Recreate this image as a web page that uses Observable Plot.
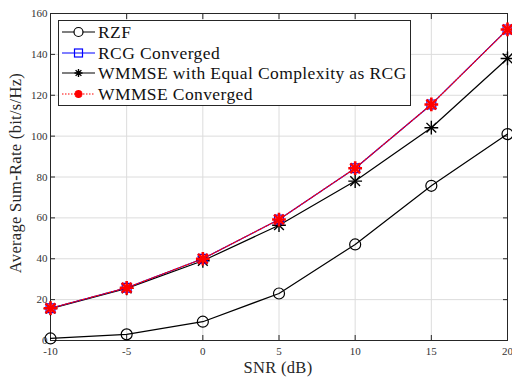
<!DOCTYPE html>
<html><head><meta charset="utf-8">
<script src="https://cdn.jsdelivr.net/npm/d3@7"></script>
<script src="https://cdn.jsdelivr.net/npm/@observablehq/plot@0.6"></script>
<style>
body{margin:0;background:#fff}
#c{position:relative;width:512px;height:380px}
</style></head>
<body><div id="c"></div>
<script>
const snr = [-10, -5, 0, 5, 10, 15, 20];
const rzf = [1, 3, 9.2, 23, 47, 75.7, 101];
const rcg = [15.8, 25.8, 40, 59.2, 84.3, 115.5, 152.2];
const wmmseEq = [15.6, 25.5, 39, 56.4, 78, 104.1, 138];
const wmmseConv = [15.8, 25.8, 40, 59.2, 84.3, 115.5, 152.2];
const xTicks = [-10, -5, 0, 5, 10, 15, 20];
const yTicks = [0, 20, 40, 60, 80, 100, 120, 140, 160];
const seriesNames = ["RZF", "RCG Converged", "WMMSE with Equal Complexity as RCG", "WMMSE Converged"];

const mk = ys => snr.map((x, i) => ({x, y: ys[i]}));
const dRZF = mk(rzf), dRCG = mk(rcg), dEq = mk(wmmseEq), dConv = mk(wmmseConv);
const font = "'Liberation Serif', 'Times New Roman', serif";
const axisCol = "#262626";
const fmt = d => String(d);

const chart = Plot.plot({
  width: 512, height: 380,
  marginLeft: 50, marginRight: 5, marginTop: 13, marginBottom: 40,
  style: {fontFamily: font, fontSize: "11px", color: axisCol, background: "#fff"},
  x: {domain: [-10, 20]},
  y: {domain: [0, 160]},
  marks: [
    Plot.gridX(xTicks, {stroke: "#dcdcdc", strokeOpacity: 1}),
    Plot.gridY(yTicks, {stroke: "#dcdcdc", strokeOpacity: 1}),
    Plot.axisX(xTicks, {anchor: "bottom", tickSize: -5, tickPadding: 12, label: null, fill: "#333", tickFormat: fmt}),
    Plot.axisX(xTicks, {anchor: "top", tickSize: -5, text: null, label: null}),
    Plot.axisY(yTicks, {anchor: "left", tickSize: -5, tickPadding: 8, label: null, fill: "#333", tickFormat: fmt}),
    Plot.axisY(yTicks, {anchor: "right", tickSize: -5, text: null, label: null}),
    Plot.frame({stroke: axisCol}),
    Plot.line(dRZF, {x: "x", y: "y", stroke: "black", strokeWidth: 1.2}),
    Plot.dot(dRZF, {x: "x", y: "y", symbol: "circle", r: 5.5, stroke: "black", fill: "none", strokeWidth: 1.2}),
    Plot.line(dEq, {x: "x", y: "y", stroke: "black", strokeWidth: 1.2}),
    Plot.dot(dEq, {x: "x", y: "y", symbol: "plus", r: 4.5, stroke: "black", strokeWidth: 1.4}),
    Plot.dot(dEq, {x: "x", y: "y", symbol: "times", r: 4.5, stroke: "black", strokeWidth: 1.4}),
    Plot.line(dRCG, {x: "x", y: "y", stroke: "blue", strokeWidth: 1.2}),
    Plot.dot(dRCG, {x: "x", y: "y", symbol: "square", r: 5, stroke: "blue", fill: "none", strokeWidth: 1.2}),
    Plot.line(dConv, {x: "x", y: "y", stroke: "red", strokeWidth: 1.2, strokeDasharray: "1.5,1.5"}),
    Plot.dot(dConv, {x: "x", y: "y", symbol: "plus", r: 4.5, stroke: "red", strokeWidth: 2.6}),
    Plot.dot(dConv, {x: "x", y: "y", symbol: "times", r: 4.5, stroke: "red", strokeWidth: 2.6})
  ]
});
document.getElementById("c").appendChild(chart);

const svg = d3.select(chart);
// axis labels
svg.append("text").attr("x", 278).attr("y", 373).attr("text-anchor", "middle")
  .attr("font-family", font).attr("font-size", 16.5).attr("letter-spacing", 0.3).attr("fill", axisCol).text("SNR (dB)");
svg.append("text").attr("transform", "translate(21,173) rotate(-90)").attr("text-anchor", "middle")
  .attr("font-family", font).attr("font-size", 16.5).attr("letter-spacing", 0.3).attr("fill", axisCol).text("Average Sum-Rate (bit/s/Hz)");

// legend
const lg = svg.append("g").attr("text-anchor", "start");
lg.append("rect").attr("x", 58.5).attr("y", 20.5).attr("width", 352).attr("height", 85)
  .attr("fill", "white").attr("stroke", axisCol).attr("stroke-width", 1);
const rowY = [32, 53, 73, 94];
const styles = [
  {stroke: "black", dash: null},
  {stroke: "blue", dash: null},
  {stroke: "black", dash: null},
  {stroke: "red", dash: "1.5,1.5"}
];
seriesNames.forEach((name, i) => {
  const y = rowY[i];
  lg.append("line").attr("x1", 62).attr("x2", 95).attr("y1", y).attr("y2", y)
    .attr("stroke", styles[i].stroke).attr("stroke-width", 1.2).attr("stroke-dasharray", styles[i].dash);
  const cx = 78.5;
  if (i === 0) lg.append("circle").attr("cx", cx).attr("cy", y).attr("r", 4.5).attr("fill", "white").attr("stroke", "black").attr("stroke-width", 1.2);
  if (i === 1) lg.append("rect").attr("x", cx - 4).attr("y", y - 4).attr("width", 8).attr("height", 8).attr("fill", "none").attr("stroke", "blue").attr("stroke-width", 1.2);
  if (i >= 2) {
    const col = i === 2 ? "black" : "red", sw = i === 2 ? 1.4 : 2.6, s = 4;
    lg.append("path").attr("d", `M${cx - s},${y}H${cx + s}M${cx},${y - s}V${y + s}M${cx - s * 0.72},${y - s * 0.72}L${cx + s * 0.72},${y + s * 0.72}M${cx - s * 0.72},${y + s * 0.72}L${cx + s * 0.72},${y - s * 0.72}`)
      .attr("stroke", col).attr("stroke-width", sw);
  }
  lg.append("text").attr("x", 98).attr("y", y + 5.5).attr("text-anchor", "start").attr("font-family", font).attr("font-size", 17.5)
    .attr("letter-spacing", 0.4).attr("fill", "#111").text(name);
});
</script></body></html>
